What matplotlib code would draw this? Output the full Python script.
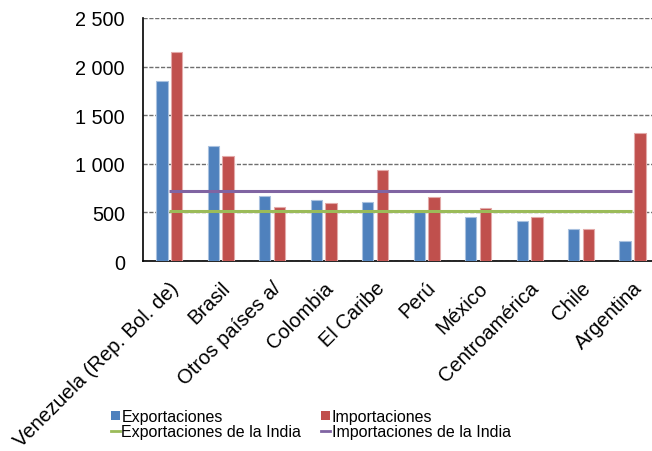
import matplotlib
matplotlib.use("Agg")
import matplotlib.pyplot as plt
import numpy as np
from matplotlib.patches import Patch
from matplotlib.lines import Line2D
from matplotlib.ticker import FuncFormatter

categories = ["Venezuela (Rep. Bol. de)", "Brasil", "Otros países a/", "Colombia",
              "El Caribe", "Perú", "México", "Centroamérica", "Chile", "Argentina"]
exportaciones = [1850, 1183, 669, 631, 604, 501, 456, 415, 333, 206]
importaciones = [2150, 1077, 552, 593, 933, 658, 545, 456, 333, 1317]
export_india = 511
import_india = 717
yticks = [0, 500, 1000, 1500, 2000, 2500]

plt.rcParams['font.family'] = ['Liberation Sans', 'DejaVu Sans']

BLUE = '#4F81BD'
RED = '#C0504D'
GREEN = '#9BBB59'
PURPLE = '#8064A2'

fig = plt.figure(figsize=(6.52, 4.52), dpi=100)
ax = fig.add_axes([143/652, 1-262/452, 514.8/652, 243/452])

x = np.arange(len(categories))
w = 0.22
ax.bar(x - 0.134, exportaciones, width=w, color=BLUE, edgecolor='#a9c1df', linewidth=0.8, zorder=3)
ax.bar(x + 0.153, importaciones, width=w, color=RED, edgecolor='#e3aaa9', linewidth=0.8, zorder=3)
ax.plot([x[0], x[-1]], [export_india]*2, color=GREEN, linewidth=2.2, zorder=4, solid_capstyle='butt')
ax.plot([x[0], x[-1]], [import_india]*2, color=PURPLE, linewidth=2.2, zorder=4, solid_capstyle='butt')

ax.set_xlim(-0.5, len(categories) - 0.5)
ax.set_ylim(0, 2500)
ax.set_yticks(yticks)
ax.yaxis.set_major_formatter(FuncFormatter(lambda v, p: f"{int(v):,}".replace(",", " ")))
ax.yaxis.grid(True, color='#6f6f6f', linestyle=(0, (3, 1.2)), linewidth=1.0, zorder=0)
ax.set_axisbelow(True)
for s in ['top', 'right']:
    ax.spines[s].set_visible(False)
for s in ['left', 'bottom']:
    ax.spines[s].set_color('black')
    ax.spines[s].set_linewidth(1.2)
ax.tick_params(axis='y', length=0, pad=13, labelsize=14.3)
ax.tick_params(axis='x', length=0, pad=12, labelsize=14.5)
ax.set_xticks(x)
ax.set_xticklabels(categories, rotation=45, ha='right', va='top', rotation_mode='anchor')

handles = [Patch(facecolor=BLUE, edgecolor='none'),
           Patch(facecolor=RED, edgecolor='none'),
           Line2D([], [], color=GREEN, linewidth=2),
           Line2D([], [], color=PURPLE, linewidth=2)]
labels = ["Exportaciones", "Importaciones", "Exportaciones de la India", "Importaciones de la India"]
order = [0, 2, 1, 3]
fig.legend([handles[i] for i in order], [labels[i] for i in order], ncol=2,
           loc='upper left', bbox_to_anchor=(111/652, 1-410/452), frameon=False,
           fontsize=11.5, handlelength=0.55, handleheight=0.55, handletextpad=0.1,
           columnspacing=1.25, labelspacing=0.0, borderpad=0, borderaxespad=0)

fig.savefig("out.png", dpi=100)
